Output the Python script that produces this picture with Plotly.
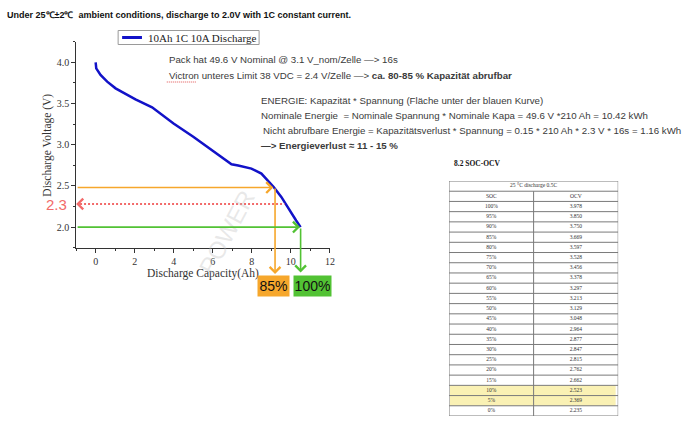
import plotly.graph_objects as go

W, H = 690, 424

# ---------------- data ----------------
capacity_ah = [0.0, 0.03, 0.25, 0.59, 1.02, 1.53, 2.04, 2.89, 3.99, 5.0, 5.99, 6.96,
               7.3, 7.98, 8.49, 8.91, 9.12, 9.51, 9.93, 10.27, 10.5]
voltage_v = [4.0, 3.927, 3.846, 3.765, 3.684, 3.615, 3.55, 3.453, 3.258, 3.096, 2.925, 2.763,
             2.747, 2.71, 2.65, 2.548, 2.487, 2.366, 2.20, 2.08, 2.0]

cap_85, volt_85 = 9.15, 2.48      # orange marker (85 %)
cap_100, volt_100 = 10.5, 2.0     # green marker (100 %)
cap_red_end, volt_red = 9.68, 2.28  # red dotted 2.3 V line

table_caption = "25 °C discharge 0.5C"
col_headers = ["SOC", "OCV"]
soc = ["100%", "95%", "90%", "85%", "80%", "75%", "70%", "65%", "60%", "55%", "50%",
       "45%", "40%", "35%", "30%", "25%", "20%", "15%", "10%", "5%", "0%"]
ocv = ["3.978", "3.850", "3.750", "3.669", "3.597", "3.528", "3.456", "3.378", "3.297",
       "3.213", "3.129", "3.048", "2.964", "2.877", "2.847", "2.815", "2.762", "2.662",
       "2.523", "2.369", "2.235"]
highlight_soc = ["10%", "5%"]

x_ticks = [0, 2, 4, 6, 8, 10, 12]
y_ticks = [2.0, 2.5, 3.0, 3.5, 4.0]


def PX(x):
    return x / W


def PY(y):
    return 1 - y / H


SERIF = "Liberation Serif"
SANS = "Liberation Sans"
ORANGE = "#F6A72C"
GREEN = "#52C234"
RED = "#F26A6A"
BLUE = "#1212C8"
TXT = "#3a3a3a"
GRID = "#7a7a7a"

fig = go.Figure()

fig.add_trace(go.Scatter(x=capacity_ah, y=voltage_v, mode="lines",
                         line=dict(color=BLUE, width=2.5),
                         name="10Ah 1C 10A Discharge", showlegend=False))

annotations = []
shapes = []

# ---------------- SOC-OCV table on its own axes (x2/y2) ----------------
n_rows = len(soc) + 2  # caption row + header row + data rows
for i, s in enumerate(soc):
    if s in highlight_soc:
        shapes.append(dict(type="rect", xref="x2", yref="y2", x0=0.01, x1=1.97,
                           y0=i + 2, y1=i + 3, line=dict(width=0),
                           fillcolor="#FAF1B4", layer="below"))
for r in range(n_rows + 1):
    shapes.append(dict(type="line", xref="x2", yref="y2", x0=0, x1=2, y0=r, y1=r,
                       line=dict(color=GRID, width=1)))
for c, r0 in [(0, 0), (2, 0), (1, 1)]:
    shapes.append(dict(type="line", xref="x2", yref="y2", x0=c, x1=c, y0=r0, y1=n_rows,
                       line=dict(color=GRID, width=1)))

cell_x = [1.0] + [0.5, 1.5] + [0.5] * len(soc) + [1.5] * len(ocv)
cell_y = [0.5] + [1.5, 1.5] + [i + 2.5 for i in range(len(soc))] + [i + 2.5 for i in range(len(ocv))]
cell_t = [table_caption] + col_headers + soc + ocv
fig.add_trace(go.Scatter(x=cell_x, y=cell_y, text=cell_t, mode="text", xaxis="x2", yaxis="y2",
                         textfont=dict(family=SERIF, size=5.5, color="#333"),
                         showlegend=False, hoverinfo="skip"))

# Title
annotations.append(dict(xref="paper", yref="paper", x=PX(5), y=PY(15), xanchor="left",
                        yanchor="middle", showarrow=False,
                        text="<b>Under 25℃±2℃  ambient conditions, discharge to 2.0V with 1C constant current.</b>",
                        font=dict(family=SANS, size=9, color="#111")))

# Legend (drawn box)
shapes.append(dict(type="rect", xref="paper", yref="paper", x0=PX(119), x1=PX(261),
                   y0=PY(44.5), y1=PY(30.5), line=dict(color="#9a9a9a", width=1),
                   fillcolor="white"))
shapes.append(dict(type="line", xref="paper", yref="paper", x0=PX(123), x1=PX(143),
                   y0=PY(37.5), y1=PY(37.5), line=dict(color=BLUE, width=3)))
annotations.append(dict(xref="paper", yref="paper", x=PX(147), y=PY(37.8), xanchor="left",
                        yanchor="middle", showarrow=False, text="10Ah 1C 10A Discharge",
                        font=dict(family=SERIF, size=11, color="#222")))

# Axis titles
annotations.append(dict(xref="paper", yref="paper", x=PX(204), y=PY(273), xanchor="center",
                        yanchor="middle", showarrow=False, text="Discharge Capacity(Ah)",
                        font=dict(family=SERIF, size=11.5, color="#333")))
annotations.append(dict(xref="paper", yref="paper", x=PX(47), y=PY(145), xanchor="center",
                        yanchor="middle", showarrow=False, text="Discharge Voltage (V)",
                        textangle=-90, font=dict(family=SERIF, size=11.5, color="#333")))

# Explanatory texts
texts = [
    (168, 60, "Pack hat 49.6 V Nominal @ 3.1 V_nom/Zelle —> 16s"),
    (168, 76, "Victron unteres Limit 38 VDC = 2.4 V/Zelle —> <b>ca. 80-85 % Kapazität abrufbar</b>"),
    (261, 101, "ENERGIE: Kapazität * Spannung (Fläche unter der blauen Kurve)"),
    (261, 115.5, "Nominale Energie  = Nominale Spannung * Nominale Kapa = 49.6 V *210 Ah = 10.42 kWh"),
    (263, 130, "Nicht abrufbare Energie = Kapazitätsverlust * Spannung = 0.15 * 210 Ah * 2.3 V * 16s = 1.16 kWh"),
    (261, 145, "<b>—> Energieverlust ≈ 11 - 15 %</b>"),
]
for (x, y, t) in texts:
    annotations.append(dict(xref="paper", yref="paper", x=PX(x), y=PY(y), xanchor="left",
                            yanchor="middle", showarrow=False, text=t,
                            font=dict(family=SANS, size=9.7, color=TXT)))
# spell-check underline under "Victron"
shapes.append(dict(type="line", xref="paper", yref="paper", x0=PX(168), x1=PX(198),
                   y0=PY(82), y1=PY(82), line=dict(color="#E05050", width=1, dash="1px,1px")))

# Table title
annotations.append(dict(xref="paper", yref="paper", x=PX(455.5), y=PY(163.5), xanchor="left",
                        yanchor="middle", showarrow=False, text="<b>8.2 SOC-OCV</b>",
                        font=dict(family=SERIF, size=7.5, color="#111")))

# Watermark
annotations.append(dict(xref="paper", yref="paper", x=PX(228), y=PY(232), xanchor="center",
                        yanchor="middle", showarrow=False,
                        text="POWER", textangle=-62,
                        font=dict(family=SANS, size=24, color="rgba(190,190,190,0.35)")))

# Orange arrows (85 %)
annotations.append(dict(xref="x", yref="y", x=cap_85 - 0.05, y=volt_85, axref="x", ayref="y",
                        ax=-1, ay=volt_85, showarrow=True, arrowhead=4, arrowsize=1.3,
                        arrowwidth=1.6, arrowcolor=ORANGE, text=""))
annotations.append(dict(xref="x", yref="paper", x=cap_85 + 0.04, y=PY(274), ax=0, ay=-87,
                        showarrow=True, arrowhead=4, arrowsize=1.3, arrowwidth=1.6,
                        arrowcolor=ORANGE, text=""))
# Green arrows (100 %)
annotations.append(dict(xref="x", yref="y", x=cap_100 - 0.03, y=volt_100, axref="x", ayref="y",
                        ax=-1, ay=volt_100, showarrow=True, arrowhead=4, arrowsize=1.3,
                        arrowwidth=1.6, arrowcolor=GREEN, text=""))
annotations.append(dict(xref="x", yref="paper", x=cap_100, y=PY(272.5), ax=0, ay=-45.5,
                        showarrow=True, arrowhead=4, arrowsize=1.3, arrowwidth=1.6,
                        arrowcolor=GREEN, text=""))
# Red dotted 2.3 V line
shapes.append(dict(type="line", xref="x", yref="y", x0=-0.8, x1=cap_red_end, y0=volt_red,
                   y1=volt_red, line=dict(color=RED, width=2, dash="2px,2px")))
annotations.append(dict(xref="x", yref="y", x=-1, y=volt_red, axref="x", ayref="y",
                        ax=-0.75, ay=volt_red, showarrow=True, arrowhead=4, arrowsize=1.3,
                        arrowwidth=1.6, arrowcolor=RED, text=""))
annotations.append(dict(xref="paper", yref="y", x=PX(70), y=volt_red, xanchor="right",
                        yanchor="middle", showarrow=False, text="2.3",
                        font=dict(family=SANS, size=15, color=RED)))

# Percentage boxes
annotations.append(dict(xref="paper", yref="paper", x=PX(275), y=PY(285.5), xanchor="center",
                        yanchor="middle", showarrow=False,
                        text="85%", bgcolor=ORANGE, borderpad=1, width=29, height=18,
                        font=dict(family=SANS, size=14, color="#111")))
annotations.append(dict(xref="paper", yref="paper", x=PX(315), y=PY(285.5), xanchor="center",
                        yanchor="middle", showarrow=False,
                        text="100%", bgcolor=GREEN, borderpad=1, width=35, height=18,
                        font=dict(family=SANS, size=14, color="#111")))

fig.update_layout(
    width=W, height=H,
    margin=dict(l=0, r=0, t=0, b=0),
    paper_bgcolor="white", plot_bgcolor="white",
    showlegend=False,
    annotations=annotations,
    shapes=shapes,
    xaxis=dict(domain=[PX(76.7), PX(332.3)], range=[-1, 12], tickvals=x_ticks,
               ticks="outside", ticklen=4, tickcolor="#333", showline=True,
               linecolor="#333", linewidth=1, showgrid=False, zeroline=False,
               minor=dict(dtick=1, tick0=0, ticks="outside", ticklen=2, tickcolor="#333"),
               tickfont=dict(family=SERIF, size=10, color="#333")),
    yaxis=dict(domain=[PY(247.7), PY(41.7)], range=[1.75, 4.25], tickvals=y_ticks,
               tickformat=".1f", ticks="outside", ticklen=4, tickcolor="#333",
               showline=True, linecolor="#333", linewidth=1, showgrid=False, zeroline=False,
               minor=dict(dtick=0.25, tick0=0, ticks="outside", ticklen=2, tickcolor="#333"),
               tickfont=dict(family=SERIF, size=10, color="#333")),
    xaxis2=dict(domain=[PX(452.3), PX(622.7)], range=[0, 2], visible=False,
                anchor="y2", fixedrange=True),
    yaxis2=dict(domain=[PY(416), PY(181)], range=[n_rows, 0], visible=False,
                anchor="x2", fixedrange=True),
)

fig.write_html("out.html")
